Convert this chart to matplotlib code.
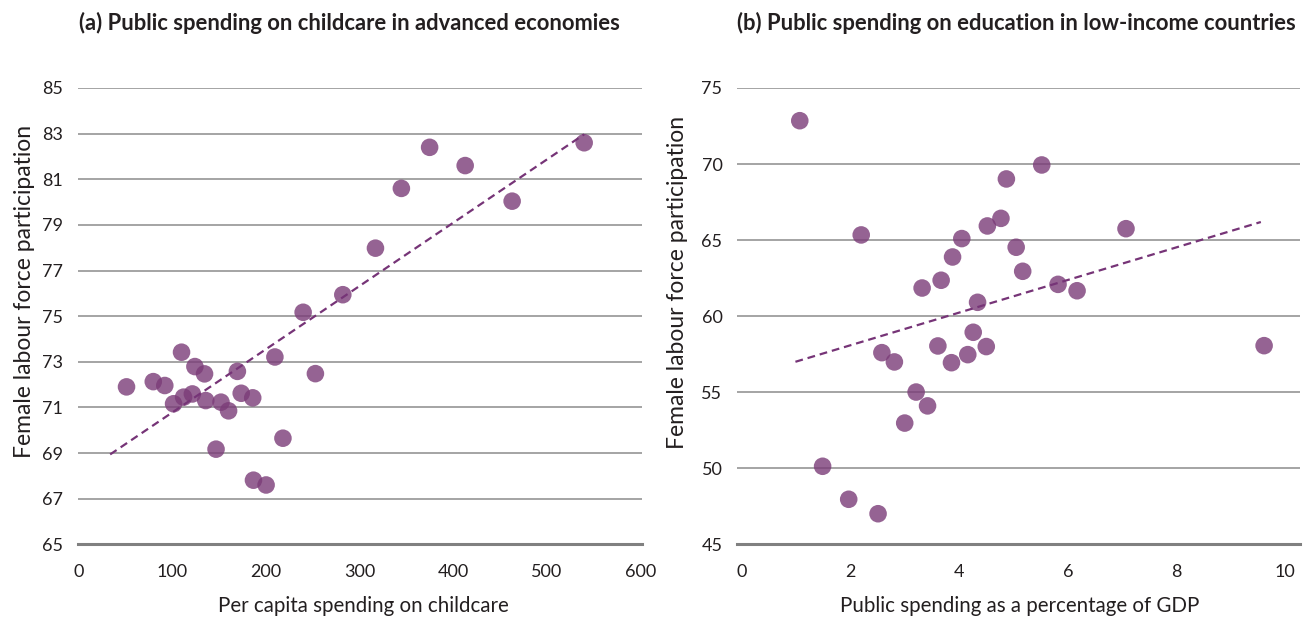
import numpy as np
import matplotlib.pyplot as plt

plt.rcParams['font.family'] = ['Lato', 'DejaVu Sans']

# (a) childcare spending vs female participation, advanced economies
care_x = [50.8, 79.4, 91.7, 101.1, 109.6, 111.8, 121.2, 123.9, 134.2, 135.5,
          146.5, 151.8, 159.9, 169.3, 173.4, 185.7, 186.5, 200.0, 209.4, 218.0,
          239.6, 252.7, 282.0, 316.9, 344.6, 374.8, 412.8, 463.0, 540.0]
care_y = [71.9, 72.13, 71.96, 71.16, 73.42, 71.45, 71.59, 72.79, 72.47, 71.3,
          69.17, 71.23, 70.85, 72.58, 71.62, 71.42, 67.81, 67.6, 73.21, 69.65,
          75.17, 72.48, 75.94, 77.98, 80.6, 82.4, 81.6, 80.04, 82.6]
care_trend_x = [33.3, 540.0]
care_trend_y = [68.94, 82.97]

# (b) education spending (% GDP) vs female participation, low-income countries
edu_x = [1.07, 1.49, 1.97, 2.2, 2.51, 2.58, 2.81, 3.0, 3.21, 3.32,
         3.42, 3.61, 3.67, 3.86, 3.88, 4.05, 4.16, 4.26, 4.34, 4.5,
         4.52, 4.77, 4.87, 5.05, 5.17, 5.52, 5.82, 6.17, 7.07, 9.61]
edu_y = [72.85, 50.13, 47.96, 65.34, 47.01, 57.6, 56.99, 52.97, 55.01, 61.85,
         54.1, 58.04, 62.36, 56.94, 63.89, 65.1, 57.47, 58.94, 60.91, 58.0,
         65.93, 66.43, 69.02, 64.53, 62.95, 69.94, 62.09, 61.67, 65.75, 58.06]
edu_trend_x = [0.99, 9.55]
edu_trend_y = [57.0, 66.19]

titles = ['(a) Public spending on childcare in advanced economies',
          '(b) Public spending on education in low-income countries']
xlabels = ['Per capita spending on childcare',
           'Public spending as a percentage of GDP']
ylabel = 'Female labour force participation'

dot = '#7b3c78'
line = '#763477'
grid = '#8c8c8c'
txt = '#231f20'

W, H = 1304, 620
fig = plt.figure(figsize=(W / 100, H / 100), dpi=100)

def px_axes(x0, x1, y0, y1):
    return fig.add_axes([x0 / W, 1 - y1 / H, (x1 - x0) / W, (y1 - y0) / H])

ax1 = px_axes(77.5, 641.7, 88, 544.3)
ax2 = px_axes(736.7, 1300, 88, 544.3)

panels = [
    (ax1, care_x, care_y, care_trend_x, care_trend_y, (-1.6, 601.5), np.arange(0, 601, 100),
     (65, 85), np.arange(65, 86, 2), (-0.075, 0.554), (0.507, -0.113)),
    (ax2, edu_x, edu_y, edu_trend_x, edu_trend_y, (-0.09, 10.27), np.arange(0, 11, 2),
     (45, 75), np.arange(45, 76, 5), (-0.0865, 0.574), (0.503, -0.113)),
]

for i, (ax, x, y, tx, ty, xl, xt, yl, yt, ylab_pos, xlab_pos) in enumerate(panels):
    ax.set_xlim(*xl)
    ax.set_ylim(*yl)
    ax.set_xticks(xt)
    ax.set_yticks(yt)
    for v in yt[1:]:
        ax.axhline(v, color=grid, lw=1.1, zorder=1)
    ax.axhline(yt[0], color='#808080', lw=2.2, zorder=1, clip_on=False)
    for s in ax.spines.values():
        s.set_visible(False)
    ax.tick_params(length=0, labelsize=13, colors=txt)
    ax.tick_params(axis='x', pad=14.5)
    ax.tick_params(axis='y', pad=10.3)

    ax.scatter(x, y, s=160, color=dot, alpha=0.8, edgecolors='none', zorder=3)
    ax.plot(tx, ty, color=line, lw=1.6, ls=(0, (3.5, 2.2)), zorder=4)

    ax.set_xlabel(xlabels[i], fontsize=14.8, color=txt)
    ax.xaxis.set_label_coords(*xlab_pos)
    ax.set_ylabel(ylabel, fontsize=16.5, color=txt)
    ax.yaxis.set_label_coords(*ylab_pos)

fig.text(79 / W, 1 - 23 / H, titles[0], fontsize=15.8, fontweight='bold',
         color=txt, ha='left', va='center')
fig.text(737 / W, 1 - 23 / H, titles[1], fontsize=15.8, fontweight='bold',
         color=txt, ha='left', va='center')

fig.savefig('out.png', dpi=100)
